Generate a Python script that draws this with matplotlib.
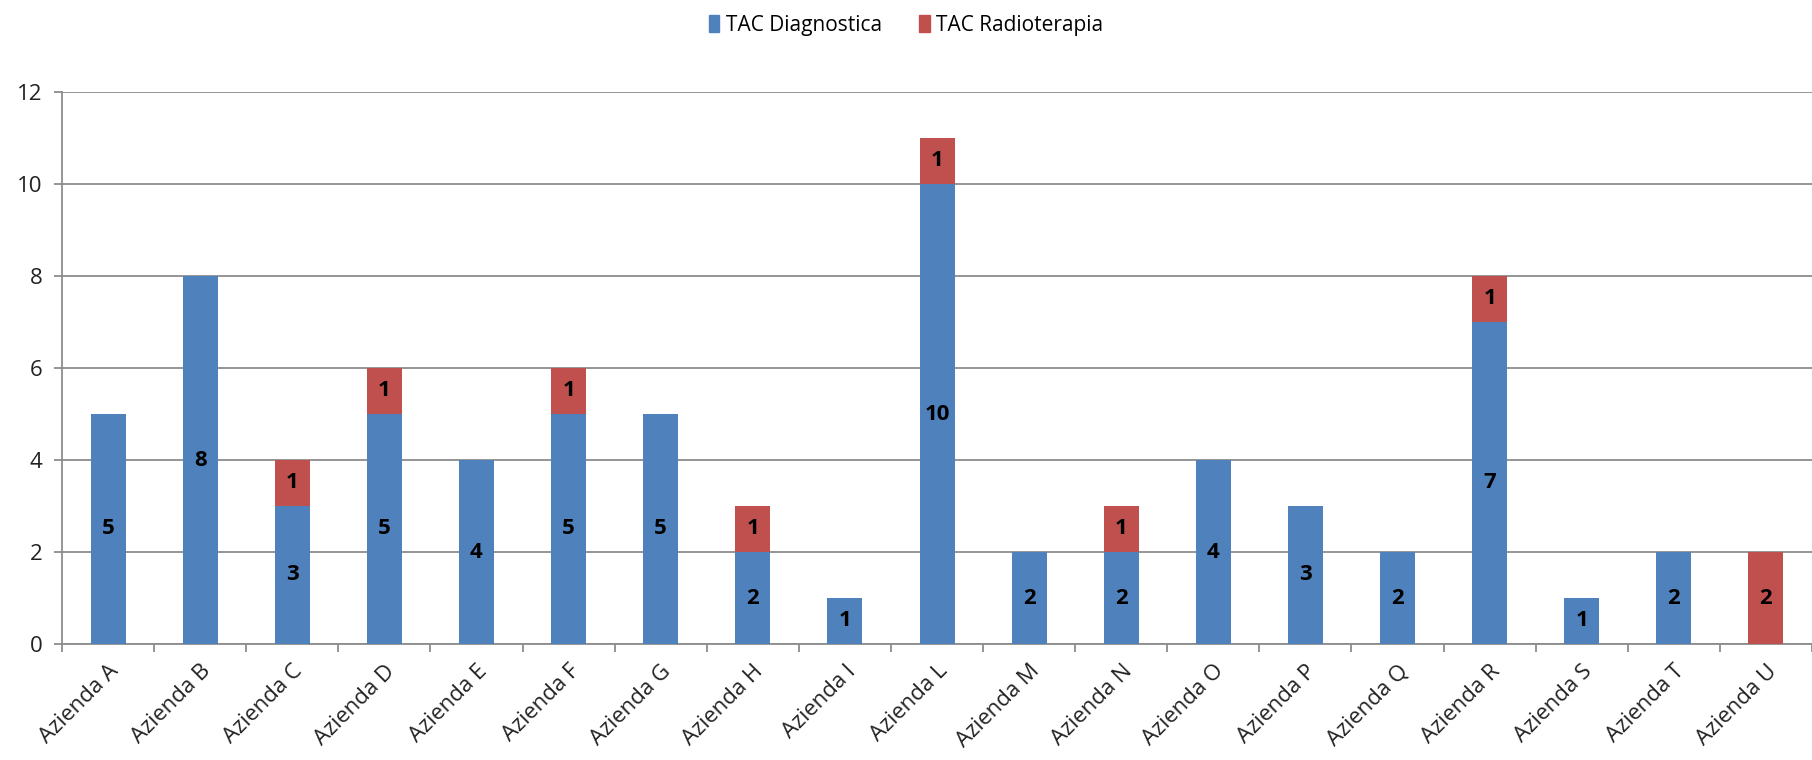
import numpy as np
import matplotlib.pyplot as plt
from matplotlib.patches import Patch

plt.rcParams['font.family'] = ['Open Sans', 'DejaVu Sans']

aziende = ['Azienda A', 'Azienda B', 'Azienda C', 'Azienda D', 'Azienda E',
           'Azienda F', 'Azienda G', 'Azienda H', 'Azienda I', 'Azienda L',
           'Azienda M', 'Azienda N', 'Azienda O', 'Azienda P', 'Azienda Q',
           'Azienda R', 'Azienda S', 'Azienda T', 'Azienda U']
diagnostica = [5, 8, 3, 5, 4, 5, 5, 2, 1, 10, 2, 2, 4, 3, 2, 7, 1, 2, 0]
radioterapia = [0, 0, 1, 1, 0, 1, 0, 1, 0, 1, 0, 1, 0, 0, 0, 1, 0, 0, 2]
yticks = [0, 2, 4, 6, 8, 10, 12]

blue = '#4F81BD'
red = '#C0504D'
grid = '#8C8C8C'

fig = plt.figure(figsize=(18.12, 7.6), dpi=100)
ax = fig.add_axes([62 / 1812, 1 - 644 / 760, 1750 / 1812, 552 / 760])

x = np.arange(len(aziende))
w = 0.38
d = np.array(diagnostica)
r = np.array(radioterapia)
ax.bar(x, d, w, color=blue, zorder=3)
ax.bar(x, r, w, bottom=d, color=red, zorder=3)

# etichette dei valori al centro di ogni segmento
for i in range(len(x)):
    if d[i] > 0:
        ax.text(x[i], d[i] / 2, str(d[i]), ha='center', va='center',
                fontsize=16, fontweight='bold', color='black', zorder=4)
    if r[i] > 0:
        ax.text(x[i], d[i] + r[i] / 2, str(r[i]), ha='center', va='center',
                fontsize=16, fontweight='bold', color='black', zorder=4)

ax.set_xlim(-0.5, len(x) - 0.5)
ax.set_ylim(0, 12)
ax.set_yticks(yticks)
ax.yaxis.grid(True, color=grid, linewidth=1.3, zorder=0)

ax.set_xticks(x)
ax.set_xticklabels(aziende, rotation=45, ha='right', rotation_mode='anchor',
                   fontsize=16, color='#222222')
ax.tick_params(axis='x', length=0, pad=12)
ax.set_xticks(np.arange(-0.5, len(x) + 0.5, 1), minor=True)
ax.tick_params(axis='x', which='minor', length=6, color=grid, width=1.3)
ax.tick_params(axis='y', length=6, color=grid, width=1.3, labelsize=16,
               labelcolor='#222222', pad=8)

for s in ['top', 'right']:
    ax.spines[s].set_visible(False)
for s in ['left', 'bottom']:
    ax.spines[s].set_color(grid)
    ax.spines[s].set_linewidth(1.3)

handles = [Patch(color=blue, label='TAC Diagnostica'),
           Patch(color=red, label='TAC Radioterapia')]
fig.legend(handles=handles, loc='center', bbox_to_anchor=(0.5, 1 - 25 / 760),
           ncol=2, frameon=False, fontsize=15, handlelength=0.5,
           handleheight=0.9, handletextpad=0.3, columnspacing=1.8)

fig.savefig('out.png', dpi=100)
